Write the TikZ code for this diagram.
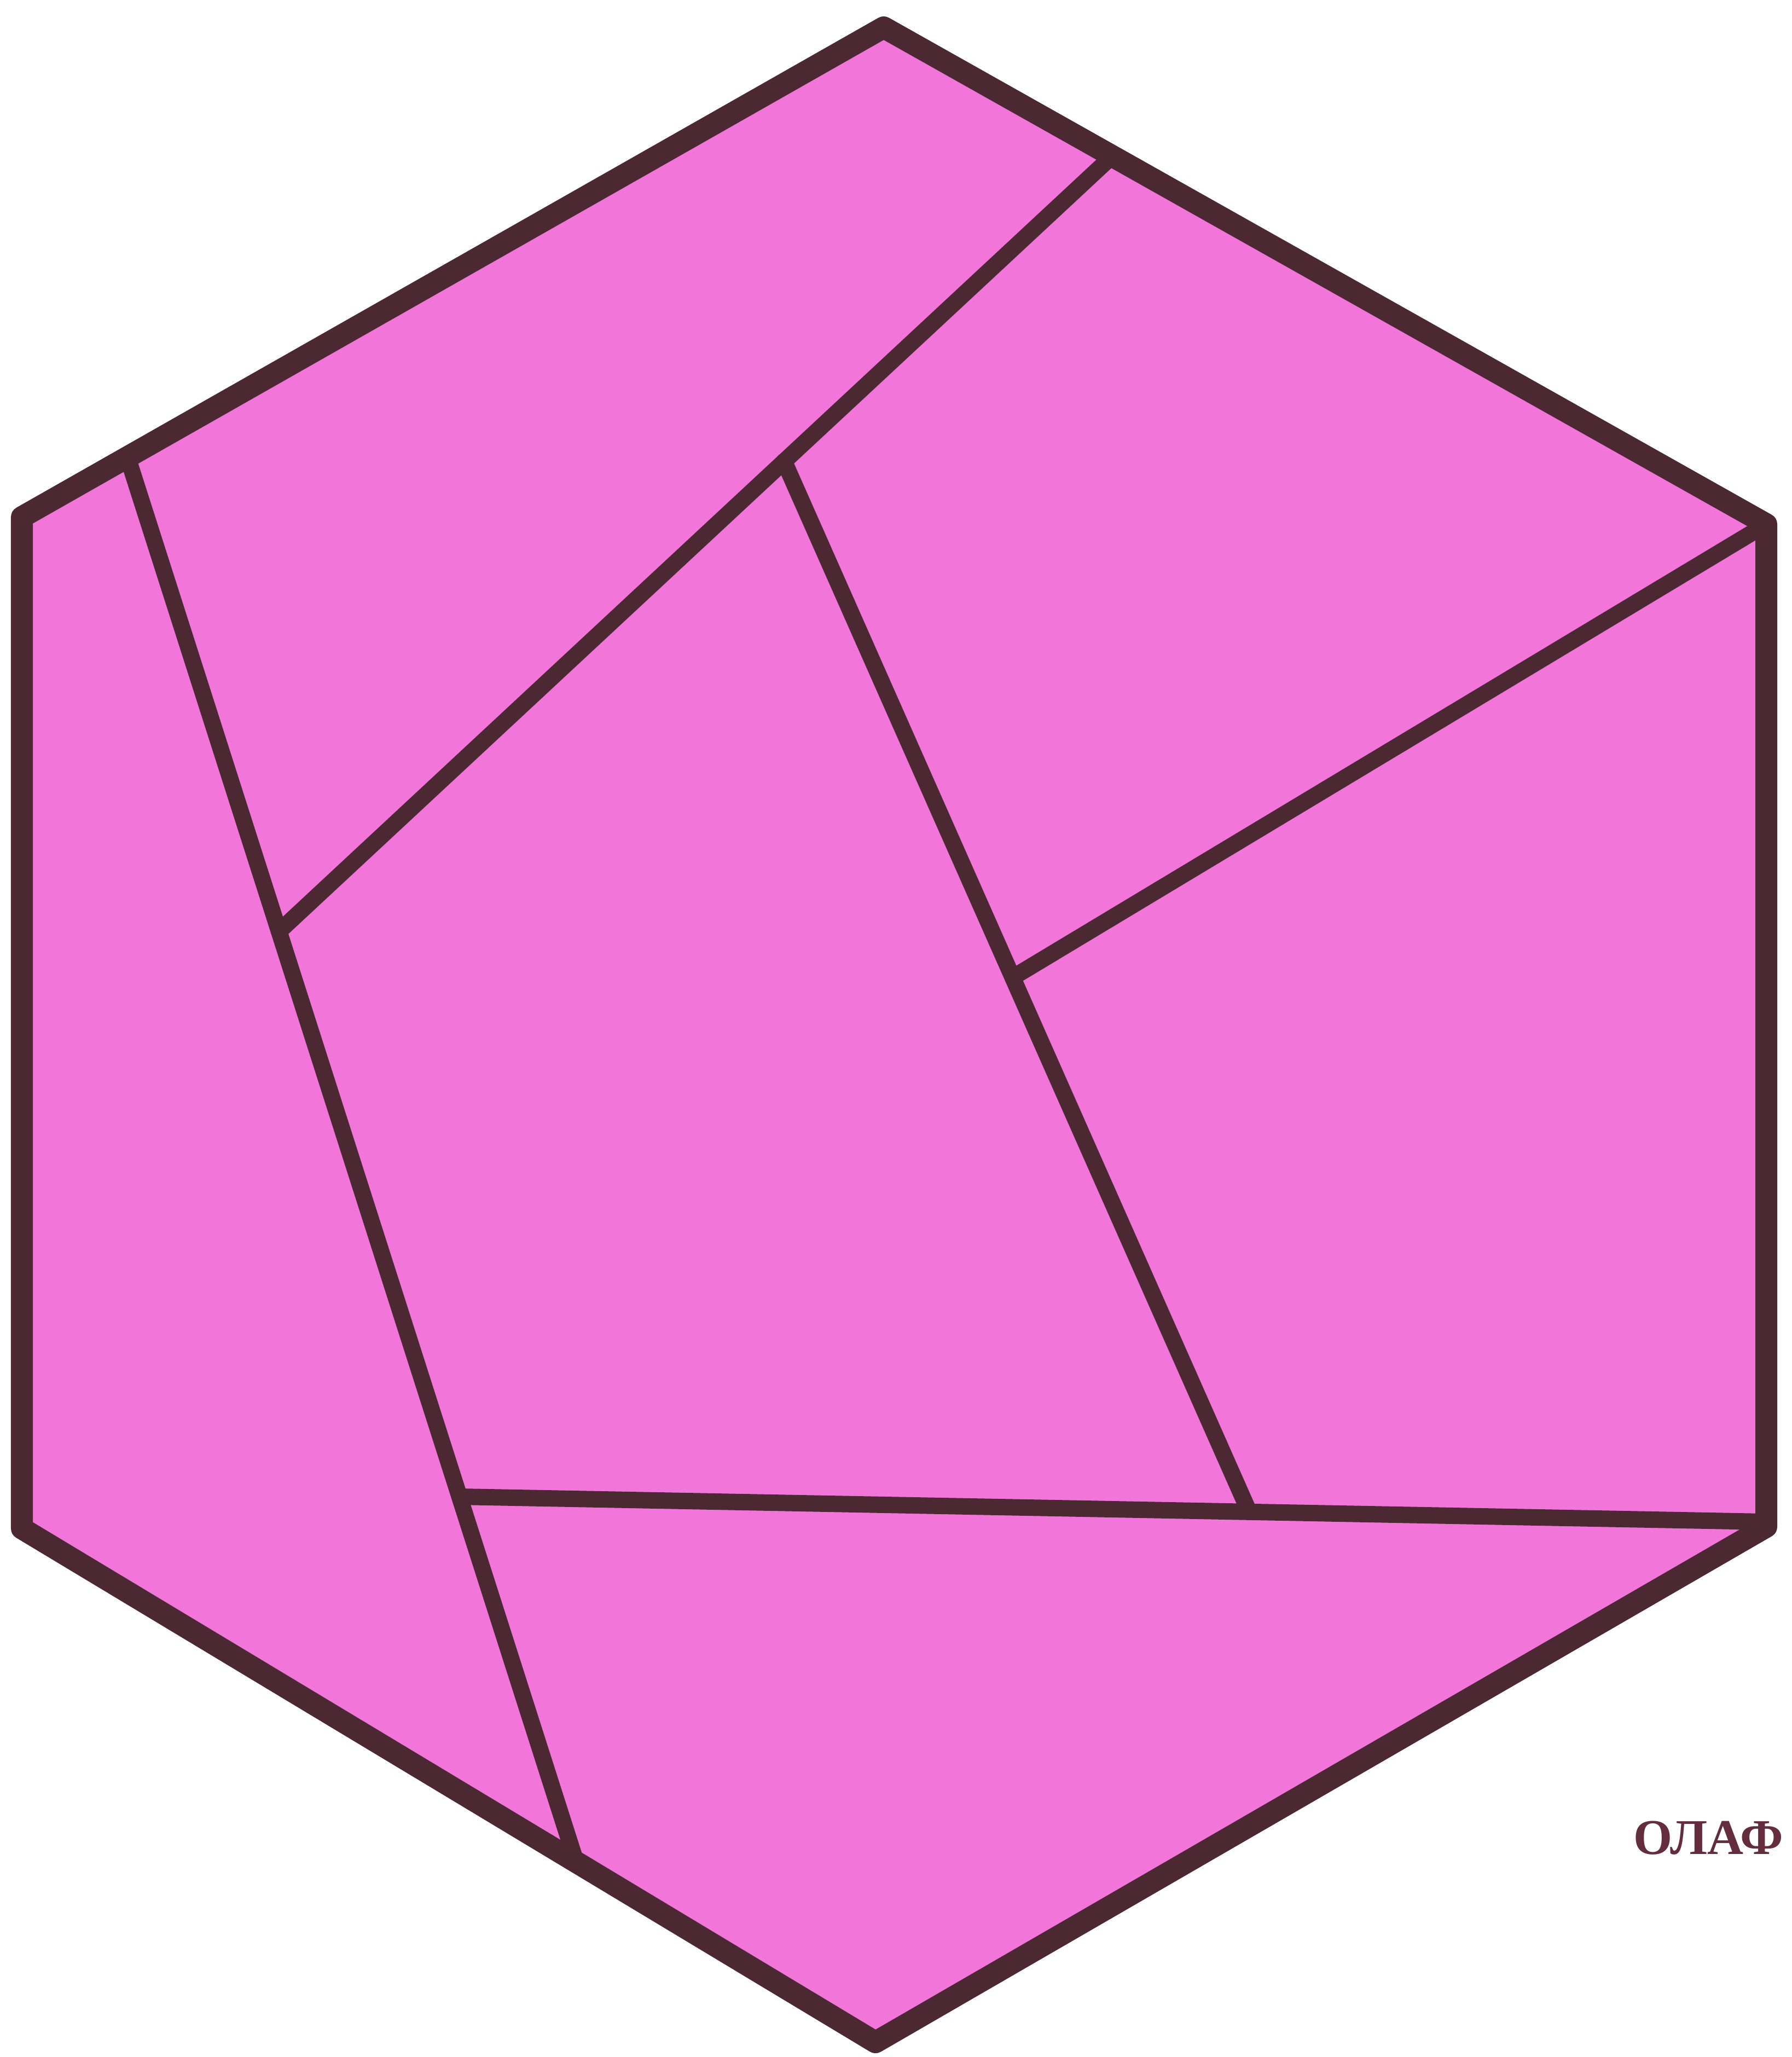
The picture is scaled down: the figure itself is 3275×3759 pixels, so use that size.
\documentclass[tikz,border=0pt]{standalone}
\usepackage{fontspec}
\setmainfont{Liberation Serif}
\usepackage{tikz}
\usetikzlibrary{calc}
\definecolor{tilepink}{RGB}{242,118,218}
\definecolor{inkbrown}{RGB}{75,40,50}
\definecolor{signred}{RGB}{100,45,62}

\begin{document}
\begin{tikzpicture}[x=0.01cm,y=-0.01cm,line join=round,line cap=round]
        % page
        \fill[white] (0,0) rectangle (3275,3759);
        \useasboundingbox (0,0) rectangle (3275,3759);
        % corners of the hexagon
        \coordinate (T)  at (1615,50);
        \coordinate (UR) at (3228,958);
        \coordinate (LR) at (3228,2790);
        \coordinate (B)  at (1600,3732);
        \coordinate (LL) at (40,2793);
        \coordinate (UL) at (40,945);
        % ends of the cuts
        \coordinate (c1) at (2033,285);
        \coordinate (c2) at (510,1702);
        \coordinate (l2a) at (233,835);
        \coordinate (l2b) at (1053,3403);
        \coordinate (d1) at (1433,843);
        \coordinate (d2) at (2283,2763);
        \coordinate (e1) at (840,2735);
        \coordinate (e2) at (3228,2781);
        \coordinate (f) at (1851,1786);
        % fill the hexagon
        \fill[tilepink] (T) -- (UR) -- (LR) -- (B) -- (LL) -- (UL) -- cycle;
        % cuts
        \draw[inkbrown,line width=0.30cm] (l2a) -- (l2b);
        \draw[inkbrown,line width=0.30cm] (c1) -- (c2);
        \draw[inkbrown,line width=0.30cm] (d1) -- (d2);
        \draw[inkbrown,line width=0.30cm] (UR) -- (f);
        \draw[inkbrown,line width=0.30cm] (e1) -- (e2);
        % outline
        \draw[inkbrown,line width=0.40cm] (T) -- (UR) -- (LR) -- (B) -- (LL) -- (UL) -- cycle;
        % signature
        \node[signred,anchor=base west,inner sep=0pt,font=\bfseries\fontsize{26}{26}\selectfont] (sign) at (2985,3388) {ОЛАФ};
\end{tikzpicture}
\end{document}
